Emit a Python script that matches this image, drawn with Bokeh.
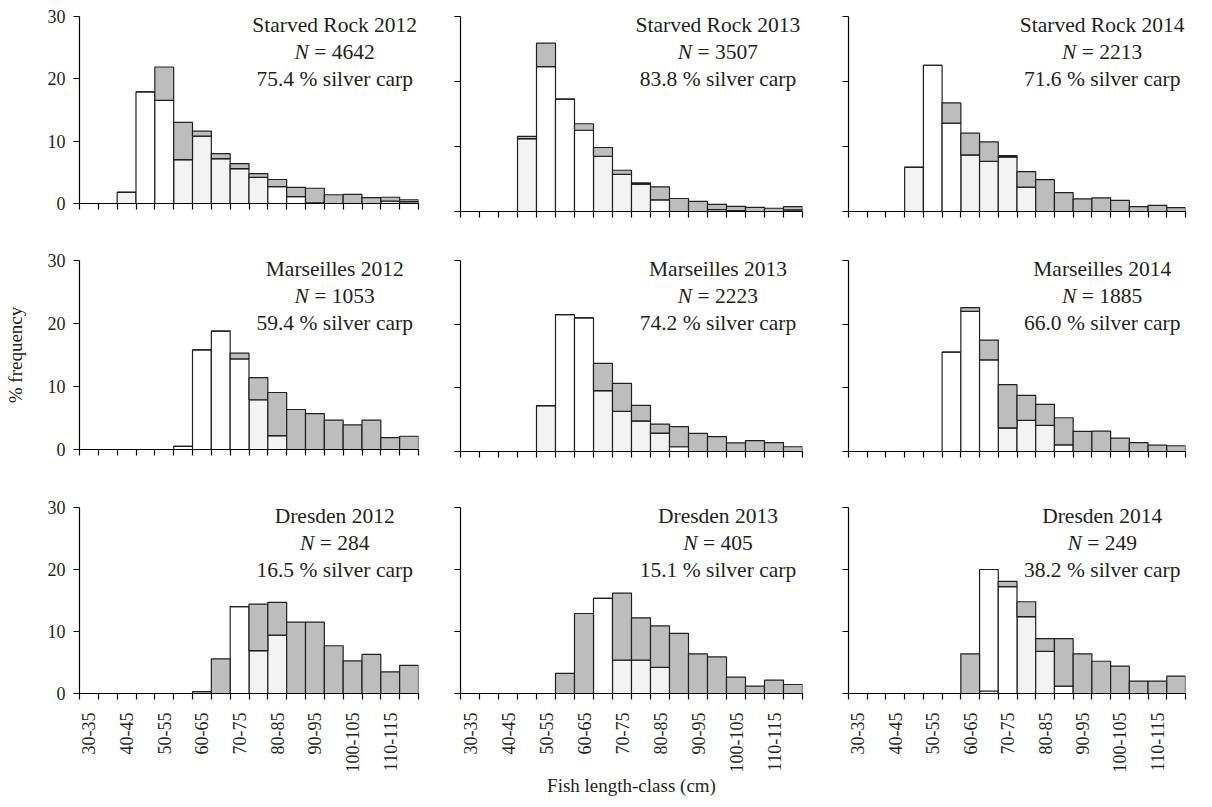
import math
from bokeh.plotting import figure
from bokeh.models import Range1d, FixedTicker, Label, ColumnDataSource
from bokeh.layouts import column, row
from bokeh.embed import file_html
from bokeh.resources import INLINE

# ---------------- data ----------------
length_classes = ["30-35", "35-40", "40-45", "45-50", "50-55", "55-60", "60-65", "65-70",
                  "70-75", "75-80", "80-85", "85-90", "90-95", "95-100", "100-105",
                  "105-110", "110-115", "115-120"]
labelled_classes = ["30-35", "40-45", "50-55", "60-65", "70-75", "80-85", "90-95",
                    "100-105", "110-115"]
y_ticks = [0, 10, 20, 30]

# light-grey segment, white segment, dark-grey segment (% frequency)
sr2012_light = [0, 0, 1.8, 0, 0, 7.05, 10.8, 7.2, 5.6, 4.2, 0, 0, 0, 0, 0, 0, 0.4, 0.3]
sr2012_white = [0, 0, 0, 17.9, 16.55, 0, 0, 0, 0, 0, 2.7, 1.1, 0.1, 0, 0, 0, 0, 0]
sr2012_dark = [0, 0, 0, 0, 5.35, 5.95, 0.8, 0.8, 0.8, 0.6, 1.15, 1.5, 2.35, 1.4, 1.45, 0.95, 0.6, 0.3]

sr2013_light = [0, 0, 0, 11.2, 0, 0, 0, 8.5, 5.7, 4.2, 0, 0, 0, 0, 0, 0, 0, 0.25]
sr2013_white = [0, 0, 0, 0, 22.3, 17.3, 12.5, 0, 0, 0, 1.8, 0, 0, 0.3, 0.15, 0, 0, 0]
sr2013_dark = [0, 0, 0, 0.35, 3.6, 0, 1.0, 1.35, 0.65, 0.2, 2.0, 2.0, 1.55, 0.8, 0.65, 0.65, 0.5, 0.5]

sr2014_light = [0, 0, 0, 6.8, 0, 0, 8.7, 7.7, 8.4, 3.75, 0, 0, 0, 0, 0, 0, 0, 0]
sr2014_white = [0, 0, 0, 0, 22.5, 13.6, 0, 0, 0, 0, 0, 0, 0, 0, 0, 0, 0, 0]
sr2014_dark = [0, 0, 0, 0, 0, 3.1, 3.35, 3.0, 0.2, 2.4, 4.9, 2.9, 1.95, 2.1, 1.7, 0.75, 0.95, 0.6]

ma2012_light = [0, 0, 0, 0, 0, 0, 0, 0, 0, 7.9, 2.2, 0, 0, 0, 0, 0, 0, 0]
ma2012_white = [0, 0, 0, 0, 0, 0.5, 15.8, 18.8, 14.4, 0, 0, 0, 0, 0, 0, 0, 0, 0]
ma2012_dark = [0, 0, 0, 0, 0, 0, 0, 0, 0.9, 3.5, 6.85, 6.35, 5.7, 4.65, 3.9, 4.65, 1.9, 2.1]

ma2013_light = [0, 0, 0, 0, 7.2, 0, 0, 9.55, 6.3, 4.8, 2.9, 0, 0, 0, 0, 0, 0, 0]
ma2013_white = [0, 0, 0, 0, 0, 21.5, 21.0, 0, 0, 0, 0, 0.75, 0, 0, 0, 0, 0, 0]
ma2013_dark = [0, 0, 0, 0, 0, 0, 0, 4.3, 4.4, 2.45, 1.4, 3.15, 2.85, 2.35, 1.35, 1.7, 1.4, 0.75]

ma2014_light = [0, 0, 0, 0, 0, 0, 0, 0, 3.7, 4.9, 4.1, 0, 0, 0, 0, 0, 0, 0]
ma2014_white = [0, 0, 0, 0, 0, 15.6, 22.0, 14.4, 0, 0, 0, 1.05, 0, 0, 0, 0, 0, 0]
ma2014_dark = [0, 0, 0, 0, 0, 0, 0.6, 3.1, 6.8, 3.9, 3.3, 4.25, 3.15, 3.2, 2.1, 1.4, 1.0, 0.9]

dr2012_light = [0, 0, 0, 0, 0, 0, 0, 0, 0, 6.9, 9.4, 0, 0, 0, 0, 0, 0, 0]
dr2012_white = [0, 0, 0, 0, 0, 0, 0.3, 0, 14.0, 0, 0, 0, 0, 0, 0, 0, 0, 0]
dr2012_dark = [0, 0, 0, 0, 0, 0, 0, 5.6, 0, 7.5, 5.3, 11.5, 11.5, 7.7, 5.25, 6.3, 3.5, 4.55]

dr2013_light = [0, 0, 0, 0, 0, 0, 0, 0, 5.4, 5.4, 4.2, 0, 0, 0, 0, 0, 0, 0]
dr2013_white = [0, 0, 0, 0, 0, 0, 0, 15.35, 0, 0, 0, 0, 0, 0, 0, 0, 0, 0]
dr2013_dark = [0, 0, 0, 0, 0, 3.25, 12.9, 0, 10.8, 6.8, 6.7, 9.7, 6.4, 5.9, 2.65, 1.2, 2.15, 1.45]

dr2014_light = [0, 0, 0, 0, 0, 0, 0, 0.4, 0, 12.4, 6.8, 0, 0, 0, 0, 0, 0, 0]
dr2014_white = [0, 0, 0, 0, 0, 0, 0, 19.6, 17.25, 0, 0, 1.2, 0, 0, 0, 0, 0, 0]
dr2014_dark = [0, 0, 0, 0, 0, 0, 6.4, 0, 0.85, 2.4, 2.05, 7.65, 6.4, 5.2, 4.4, 2.0, 2.0, 2.8]

panel_titles = [["Starved Rock 2012", "Starved Rock 2013", "Starved Rock 2014"],
                ["Marseilles 2012", "Marseilles 2013", "Marseilles 2014"],
                ["Dresden 2012", "Dresden 2013", "Dresden 2014"]]
panel_n = [["4642", "3507", "2213"], ["1053", "2223", "1885"], ["284", "405", "249"]]
panel_pct = [["75.4", "83.8", "71.6"], ["59.4", "74.2", "66.0"], ["16.5", "15.1", "38.2"]]
panel_data = [[(sr2012_light, sr2012_white, sr2012_dark), (sr2013_light, sr2013_white, sr2013_dark),
               (sr2014_light, sr2014_white, sr2014_dark)],
              [(ma2012_light, ma2012_white, ma2012_dark), (ma2013_light, ma2013_white, ma2013_dark),
               (ma2014_light, ma2014_white, ma2014_dark)],
              [(dr2012_light, dr2012_white, dr2012_dark), (dr2013_light, dr2013_white, dr2013_dark),
               (dr2014_light, dr2014_white, dr2014_dark)]]

# ---------------- styling / layout ----------------
FONT = "Liberation Serif"
TXT = "#231f20"
LIGHT = "#f3f3f3"
WHITE = "#ffffff"
DARK = "#bdbdbd"
EDGE = "#231f20"

left_b = [79, 21, 22]
frame_w = [339, 342, 337]
right_b = [21, 24, 10]
top_b = [16, 12, 12]
frame_h = [[187, 195, 195], [189, 191, 191], [186, 186, 186]]
row_total = [248, 247, None]
bottom_min_row3 = 98

nb = len(length_classes)
centers = [i + 0.5 for i in range(nb)]
label_ticks = [length_classes.index(c) + 0.5 for c in labelled_classes]
overrides = {t: c for t, c in zip(label_ticks, labelled_classes)}

ANN = 21.5  # annotation font px
TICK = "18px"


def make_panel(r, c):
    fh = frame_h[r][c]
    bb = (row_total[r] - top_b[r] - fh) if row_total[r] else bottom_min_row3
    p = figure(frame_width=frame_w[c], frame_height=fh,
               x_range=Range1d(0, nb), y_range=Range1d(0, 30),
               output_backend="svg", toolbar_location=None,
               min_border_left=left_b[c], min_border_right=right_b[c],
               min_border_top=top_b[r], min_border_bottom=bb)
    p.background_fill_color = "white"
    p.border_fill_color = "white"
    p.outline_line_color = None
    p.xgrid.visible = False
    p.ygrid.visible = False

    light, white, dark = panel_data[r][c]
    src = ColumnDataSource(dict(x=centers, light=light, white=white, dark=dark))
    p.vbar_stack(["light", "white", "dark"], x="x", width=1.0, source=src,
                 fill_color=[LIGHT, WHITE, DARK], line_color=EDGE, line_width=1.2)

    # x axis: boundary ticks as minor ticks, labels only on the bottom row
    xa = p.xaxis[0]
    xa.ticker = FixedTicker(ticks=label_ticks if r == 2 else [],
                            minor_ticks=list(range(nb + 1)))
    if r == 2:
        xa.major_label_overrides = overrides
    xa.major_tick_in = 0
    xa.major_tick_out = 0
    xa.minor_tick_in = 0
    xa.minor_tick_out = 6
    xa.minor_tick_line_color = "black"
    xa.minor_tick_line_width = 1.2
    xa.axis_line_color = "black"
    xa.axis_line_width = 1.2
    xa.major_label_orientation = math.pi / 2
    xa.major_label_standoff = 13
    xa.major_label_text_font = FONT
    xa.major_label_text_font_size = TICK
    xa.major_label_text_color = TXT

    # y axis: labels only on the left column
    ya = p.yaxis[0]
    if c == 0:
        ya.ticker = FixedTicker(ticks=y_ticks, minor_ticks=[])
    else:
        ya.ticker = FixedTicker(ticks=[], minor_ticks=y_ticks)
    ya.major_tick_in = 0
    ya.major_tick_out = 6
    ya.major_tick_line_color = "black"
    ya.major_tick_line_width = 1.2
    ya.minor_tick_in = 0
    ya.minor_tick_out = 6
    ya.minor_tick_line_color = "black"
    ya.minor_tick_line_width = 1.2
    ya.axis_line_color = "black"
    ya.axis_line_width = 1.2
    ya.major_label_standoff = 8
    ya.major_label_text_font = FONT
    ya.major_label_text_font_size = TICK
    ya.major_label_text_color = TXT

    if r == 1 and c == 0:
        ya.axis_label = "% frequency"
        ya.axis_label_text_font = FONT
        ya.axis_label_text_font_size = "19px"
        ya.axis_label_text_font_style = "normal"
        ya.axis_label_text_color = TXT
        ya.axis_label_standoff = 19
    if r == 2 and c == 1:
        xa.axis_label = "Fish length-class (cm)"
        xa.axis_label_text_font = FONT
        xa.axis_label_text_font_size = "19px"
        xa.axis_label_text_font_style = "normal"
        xa.axis_label_text_color = TXT
        xa.axis_label_standoff = 0

    cx = 13.55
    common = dict(x=cx, y=30, text_font=FONT, text_font_size=f"{ANN}px",
                  text_color=TXT, text_baseline="middle")
    p.add_layout(Label(text=panel_titles[r][c], text_align="center", y_offset=-8, **common))
    n = panel_n[r][c]
    total_em = 0.667 + 1.064 + 0.5 * len(n)
    off = (0.667 - total_em / 2) * ANN
    p.add_layout(Label(text="N", text_align="right", text_font_style="italic",
                       x_offset=off, y_offset=-35, **common))
    p.add_layout(Label(text="\u00a0=\u00a0" + n, text_align="left",
                       x_offset=off, y_offset=-35, **common))
    p.add_layout(Label(text=f"{panel_pct[r][c]} % silver carp", text_align="center",
                       y_offset=-62, **common))
    return p


layout = column(*[row(*[make_panel(r, c) for c in range(3)]) for r in range(3)])

open("out.html", "w").write(file_html(layout, INLINE))
